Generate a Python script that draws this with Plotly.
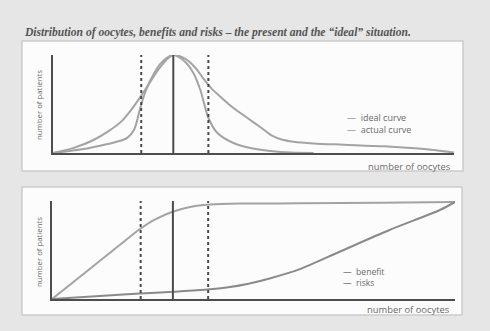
import plotly.graph_objects as go

# ---- data (x = number of oocytes scale 0-40, y = relative 0-100) ----
actual_x = [0, 2.0, 4.0, 5.5, 6.8, 7.8, 8.7, 9.6, 10.5, 11.3, 12.0, 13.2, 14.2, 15.0, 15.8, 16.8, 18.0, 19.5, 20.8, 21.8, 22.8, 24.0, 26.0, 29.0, 33.0, 37.0, 40]
actual_y = [0, 5.0, 13.0, 22.0, 32.0, 44.0, 57.0, 71.0, 85.0, 95.0, 100, 96.0, 87.0, 76.0, 66.0, 56.5, 46.0, 35.0, 25.5, 18.0, 13.8, 11.5, 9.8, 8.5, 6.8, 4.0, 0.5]

ideal_x = [0, 2.7, 4.7, 6.2, 7.4, 8.1, 8.7, 9.2, 9.8, 10.7, 12.0, 13.2, 14.0, 14.7, 15.5, 16.4, 18.0, 19.7, 21.7, 23.7, 26]
ideal_y = [0, 3.5, 7.5, 11.0, 15.5, 24.0, 45.9, 62.0, 76.0, 91.0, 100, 92.9, 81.6, 64.3, 35.7, 20.4, 10.2, 5.1, 2.0, 0.4, 0]

benefit_x = [0, 2.78, 4.76, 6.75, 8.73, 10.2, 11.9, 13.7, 15.7, 18.7, 24.6, 32.6, 40]
benefit_y = [0, 22.8, 39.0, 55.4, 71.4, 81.0, 88.8, 93.9, 96.4, 97.4, 97.6, 98.2, 99]

risks_x = [0, 4.76, 8.73, 12.0, 15.4, 17.5, 19.5, 21.6, 24.6, 28.6, 33.5, 38.5, 40]
risks_y = [0, 3.1, 5.6, 7.4, 9.6, 12.0, 15.6, 21.0, 30.5, 48.5, 70.4, 90.8, 99]

dashed_marks = [8.8, 15.5]   # dotted vertical reference lines
solid_marks = [12.0]         # solid vertical reference line

title_text = "Distribution of oocytes, benefits and risks \u2013 the present and the \u201cideal\u201d situation."
top_legend = ["ideal curve", "actual curve"]
bottom_legend = ["benefit", "risks"]
x_label = "number of oocytes"
y_label = "number of patients"

W, H = 490, 331
def px(x): return x / W
def py(y): return 1 - y / H

curve_col = "#a3a3a3"
axis_col = "#4d4d4d"
text_col = "#6a6a6a"

fig = go.Figure()
line_kw = dict(shape="spline", smoothing=0.8, width=2)
fig.add_trace(go.Scatter(x=ideal_x, y=ideal_y, mode="lines", line=dict(color=curve_col, **line_kw),
                         xaxis="x", yaxis="y", showlegend=False, cliponaxis=False))
fig.add_trace(go.Scatter(x=actual_x, y=actual_y, mode="lines", line=dict(color=curve_col, **line_kw),
                         xaxis="x", yaxis="y", showlegend=False, cliponaxis=False))
fig.add_trace(go.Scatter(x=benefit_x, y=benefit_y, mode="lines", line=dict(color=curve_col, **line_kw),
                         xaxis="x2", yaxis="y2", showlegend=False, cliponaxis=False))
fig.add_trace(go.Scatter(x=risks_x, y=risks_y, mode="lines", line=dict(color="#8a8a8a", **line_kw),
                         xaxis="x2", yaxis="y2", showlegend=False, cliponaxis=False))

shapes = []
# panels
shapes.append(dict(type="rect", xref="paper", yref="paper", x0=px(22), x1=px(463), y0=py(171), y1=py(41),
                   fillcolor="#fcfcfc", line=dict(color="#cccccc", width=1.5), layer="below"))
shapes.append(dict(type="rect", xref="paper", yref="paper", x0=px(22), x1=px(462), y0=py(315), y1=py(187),
                   fillcolor="#fcfcfc", line=dict(color="#cccccc", width=1.5), layer="below"))
for xr, yr in (("x", "y domain"), ("x2", "y2 domain")):
    for m in dashed_marks:
        shapes.append(dict(type="line", xref=xr, yref=yr, x0=m, x1=m, y0=0, y1=1,
                           line=dict(color="#4a4a4a", width=2, dash="dot")))
    for m in solid_marks:
        shapes.append(dict(type="line", xref=xr, yref=yr, x0=m, x1=m, y0=0, y1=1,
                           line=dict(color="#4a4a4a", width=2)))

axcommon = dict(showgrid=False, zeroline=False, showticklabels=False, ticks="",
                showline=True, linecolor=axis_col, linewidth=2, fixedrange=True)

ann = []
ann.append(dict(text="<b><i>" + title_text + "</i></b>", x=px(22), y=py(33), xref="paper", yref="paper",
                xanchor="left", yanchor="middle", showarrow=False,
                font=dict(family="Liberation Serif", size=11.6, color="#555555")))
sans = "Open Sans"
ann.append(dict(text="<br>".join("\u2014  " + s for s in top_legend), x=px(346), y=py(123), xref="paper", yref="paper",
                xanchor="left", yanchor="middle", align="left", showarrow=False, borderpad=0,
                font=dict(family=sans, size=9.0, color=text_col)))
ann.append(dict(text="<br>".join("\u2014  " + s for s in bottom_legend), x=px(342), y=py(277.5), xref="paper", yref="paper",
                xanchor="left", yanchor="middle", align="left", showarrow=False, borderpad=0,
                font=dict(family=sans, size=8.6, color=text_col)))
for xr, ypix in ((453, 166), (452, 309)):
    ann.append(dict(text=x_label, x=px(xr), y=py(ypix), xref="paper", yref="paper", xanchor="right",
                    yanchor="middle", showarrow=False, font=dict(family=sans, size=9.4, color=text_col)))
for yc in (105, 252):
    ann.append(dict(text=y_label, x=px(39), y=py(yc), xref="paper", yref="paper", xanchor="center",
                    yanchor="middle", textangle=-90, showarrow=False, font=dict(family=sans, size=7.8, color=text_col)))

fig.update_layout(
    width=W, height=H, margin=dict(l=0, r=0, t=0, b=0),
    paper_bgcolor="#e6e6e6", plot_bgcolor="rgba(0,0,0,0)",
    showlegend=False,
    xaxis=dict(domain=[px(53), px(454)], range=[0, 40], anchor="y", **axcommon),
    yaxis=dict(domain=[py(153), py(55)], range=[0, 100], anchor="x", **axcommon),
    xaxis2=dict(domain=[px(52), px(455)], range=[0, 40], anchor="y2", **axcommon),
    yaxis2=dict(domain=[py(299), py(201)], range=[0, 100], anchor="x2", **axcommon),
    shapes=shapes, annotations=ann,
)

fig.write_html("out.html", config={"displayModeBar": False},
               post_script="document.body.style.margin='0';document.body.style.overflow='hidden';")
